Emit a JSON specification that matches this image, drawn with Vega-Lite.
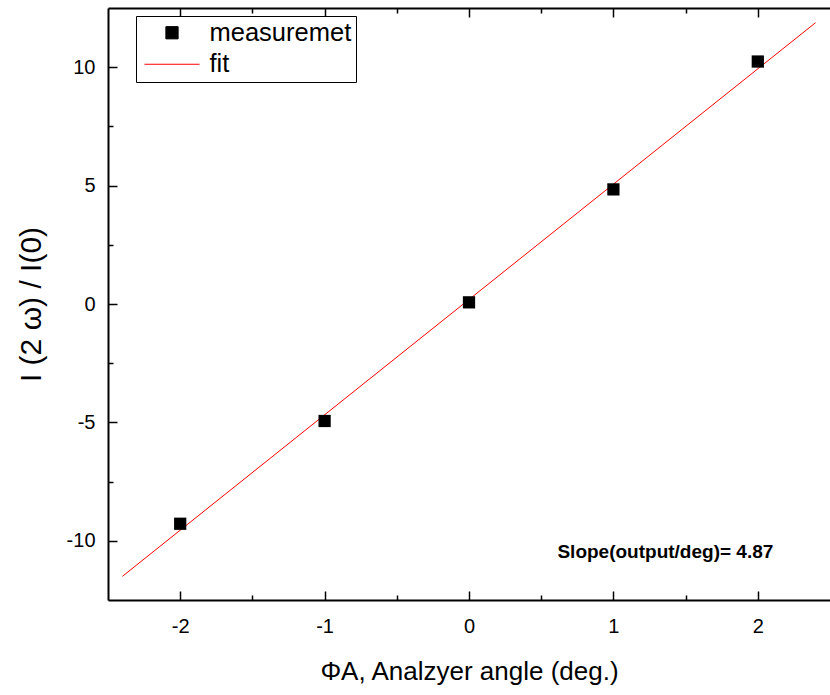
{
  "$schema": "https://vega.github.io/schema/vega-lite/v6.json",
  "width": 722,
  "height": 592,
  "autosize": "none",
  "padding": {"left": 108, "top": 8, "right": 0, "bottom": 95},
  "background": "white",
  "config": {
    "view": {"stroke": null},
    "font": "Liberation Sans",
    "axis": {
      "grid": false,
      "domainColor": "black",
      "domainWidth": 2,
      "tickColor": "black",
      "tickWidth": 1.5,
      "labelColor": "black",
      "labelFont": "Liberation Sans",
      "labelFontSize": 20,
      "titleFont": "Liberation Sans",
      "titleColor": "black",
      "titleFontWeight": "normal"
    }
  },
  "datasets": {
    "meas": [
      {"angle": -2, "ratio": -9.28, "series": "measuremet"},
      {"angle": -1, "ratio": -4.94, "series": "measuremet"},
      {"angle": 0, "ratio": 0.07, "series": "measuremet"},
      {"angle": 1, "ratio": 4.84, "series": "measuremet"},
      {"angle": 2, "ratio": 10.24, "series": "measuremet"}
    ],
    "fit": [
      {"angle": -2.4, "ratio": -11.5, "series": "fit"},
      {"angle": 2.4, "ratio": 11.88, "series": "fit"}
    ],
    "note": [
      {"text": "Slope(output/deg)= 4.87"}
    ]
  },
  "resolve": {"axis": {"x": "independent", "y": "independent"}},
  "layer": [
    {
      "data": {"name": "fit"},
      "mark": {"type": "line", "strokeWidth": 1, "clip": true},
      "encoding": {
        "x": {
          "field": "angle", "type": "quantitative",
          "scale": {"domain": [-2.5, 2.5], "nice": false, "zero": false},
          "axis": {
            "orient": "bottom",
            "title": "ΦA, Analzyer angle (deg.)",
            "titleFontSize": 26,
            "titlePadding": 22,
            "values": [-2, -1.5, -1, -0.5, 0, 0.5, 1, 1.5, 2],
            "tickSize": {"condition": {"test": "datum.value % 1 === 0", "value": -9}, "value": -5},
            "labelPadding": 25,
            "labelExpr": "datum.value % 1 === 0 ? toString(datum.value) : ''"
          }
        },
        "y": {
          "field": "ratio", "type": "quantitative",
          "scale": {"domain": [-12.5, 12.5], "nice": false, "zero": false},
          "axis": {
            "orient": "left",
            "title": "I (2 ω) / I(0)",
            "titleFontSize": 30,
            "titlePadding": 20,
            "values": [-10, -7.5, -5, -2.5, 0, 2.5, 5, 7.5, 10],
            "tickSize": {"condition": {"test": "datum.value % 5 === 0", "value": -9}, "value": -5},
            "labelPadding": 22,
            "labelExpr": "datum.value % 5 === 0 ? toString(datum.value) : ''"
          }
        },
        "color": {
          "field": "series", "type": "nominal",
          "scale": {"domain": ["measuremet", "fit"], "range": ["black", "#ff0000"]},
          "legend": {
            "orient": "none",
            "legendX": 28,
            "legendY": 8,
            "title": null,
            "strokeColor": "black",
            "fillColor": "white",
            "padding": 4,
            "labelFont": "Liberation Sans",
            "labelFontSize": 25.5,
            "labelColor": "black",
            "labelOffset": 44,
            "rowPadding": 4.5,
            "symbolStrokeWidth": 1,
            "encode": {
              "symbols": {
                "update": {
                  "x": {"value": 32},
                  "shape": {"signal": "datum.value === 'fit' ? 'stroke' : 'square'"},
                  "size": {"signal": "datum.value === 'fit' ? 3025 : 150"},
                  "fill": {"signal": "datum.value === 'fit' ? 'transparent' : 'black'"},
                  "stroke": {"signal": "datum.value === 'fit' ? '#ff0000' : 'black'"},
                  "strokeWidth": {"value": 1},
                  "opacity": {"value": 1}
                }
              }
            }
          }
        }
      }
    },
    {
      "data": {"name": "meas"},
      "mark": {"type": "point", "shape": "square", "filled": true, "size": 150, "opacity": 1},
      "encoding": {
        "x": {
          "field": "angle", "type": "quantitative",
          "axis": {
            "orient": "top",
            "title": null,
            "labels": false,
            "values": [-2, -1.5, -1, -0.5, 0, 0.5, 1, 1.5, 2],
            "tickSize": {"condition": {"test": "datum.value % 1 === 0", "value": -9}, "value": -5}
          }
        },
        "y": {"field": "ratio", "type": "quantitative", "axis": null},
        "color": {"field": "series", "type": "nominal"}
      }
    },
    {
      "data": {"name": "note"},
      "mark": {"type": "text", "fontWeight": "bold", "fontSize": 19, "font": "Liberation Sans", "color": "black"},
      "encoding": {
        "x": {"datum": 1.36, "type": "quantitative", "axis": null},
        "y": {"datum": -10.46, "type": "quantitative", "axis": null},
        "text": {"field": "text"}
      }
    }
  ]
}
